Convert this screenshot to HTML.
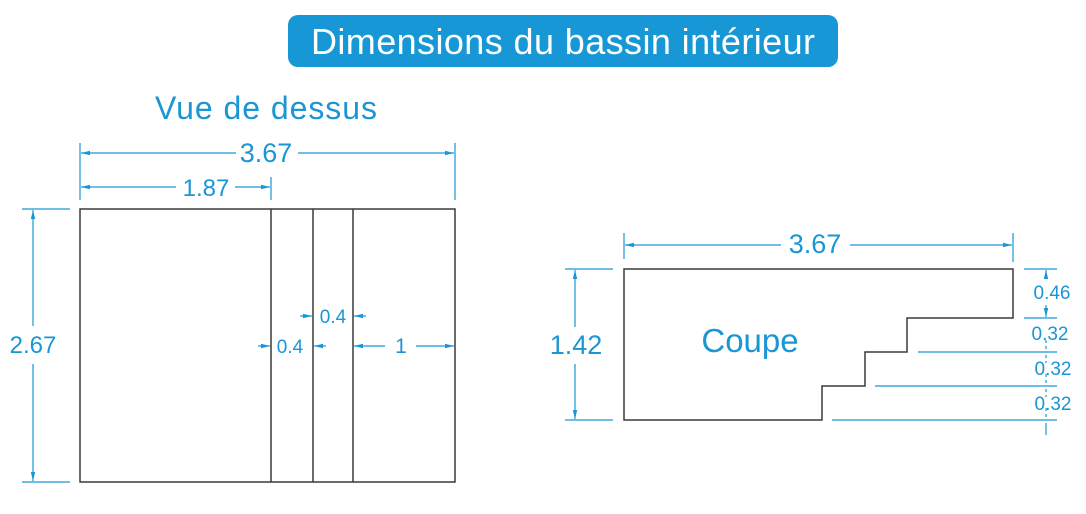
<!DOCTYPE html>
<html><head><meta charset="utf-8"><style>
html,body{margin:0;padding:0;background:#fff;width:1086px;height:514px;overflow:hidden}
svg{display:block}
text{font-family:"Liberation Sans",sans-serif;fill:#1a96d4}
</style></head><body>
<svg width="1086" height="514" viewBox="0 0 1086 514" xmlns="http://www.w3.org/2000/svg">
<defs>
<marker id="a" markerWidth="10" markerHeight="6" refX="9" refY="3" orient="auto" markerUnits="userSpaceOnUse">
<path d="M0,0.8 L9,3 L0,5.2 Z" fill="#1a96d4"/></marker>
</defs>
<rect x="288" y="15" width="550" height="52" rx="10" fill="#1797d5"/>
<text x="563" y="54" font-size="36" text-anchor="middle" textLength="504" style="fill:#fff">Dimensions du bassin intérieur</text>
<text x="266" y="119" font-size="32" text-anchor="middle" textLength="222">Vue de dessus</text>

<g stroke="#3a3a3a" stroke-width="1.5" fill="none">
<rect x="80" y="209" width="375" height="273"/>
<line x1="271" y1="209" x2="271" y2="482"/>
<line x1="313" y1="209" x2="313" y2="482"/>
<line x1="353" y1="209" x2="353" y2="482"/>
<path d="M624,269 H1013 V318 H907 V352 H865 V386 H822 V420 H624 Z"/>
</g>

<g stroke="#1a96d4" stroke-width="1.2" fill="none">
<line x1="80" y1="143" x2="80" y2="200"/>
<line x1="455" y1="143" x2="455" y2="200"/>
<line x1="271" y1="177" x2="271" y2="200"/>
<line x1="236" y1="153" x2="81" y2="153" marker-end="url(#a)"/>
<line x1="298" y1="153" x2="454" y2="153" marker-end="url(#a)"/>
<line x1="176" y1="187" x2="81" y2="187" marker-end="url(#a)"/>
<line x1="235" y1="187" x2="270" y2="187" marker-end="url(#a)"/>
<line x1="22" y1="209" x2="70" y2="209"/>
<line x1="22" y1="482" x2="70" y2="482"/>
<line x1="33" y1="326" x2="33" y2="210" marker-end="url(#a)"/>
<line x1="33" y1="364" x2="33" y2="481" marker-end="url(#a)"/>
<line x1="300" y1="316" x2="312" y2="316" marker-end="url(#a)"/>
<line x1="366" y1="316" x2="354" y2="316" marker-end="url(#a)"/>
<line x1="258" y1="346" x2="270" y2="346" marker-end="url(#a)"/>
<line x1="326" y1="346" x2="314" y2="346" marker-end="url(#a)"/>
<line x1="385" y1="346" x2="354" y2="346" marker-end="url(#a)"/>
<line x1="416" y1="346" x2="454" y2="346" marker-end="url(#a)"/>
<line x1="624" y1="233" x2="624" y2="259"/>
<line x1="1013" y1="233" x2="1013" y2="262"/>
<line x1="781" y1="245" x2="625" y2="245" marker-end="url(#a)"/>
<line x1="850" y1="245" x2="1012" y2="245" marker-end="url(#a)"/>
<line x1="565" y1="269" x2="613" y2="269"/>
<line x1="565" y1="420" x2="613" y2="420"/>
<line x1="575" y1="327" x2="575" y2="270" marker-end="url(#a)"/>
<line x1="575" y1="364" x2="575" y2="419" marker-end="url(#a)"/>
<line x1="1024" y1="269" x2="1057" y2="269"/>
<line x1="1024" y1="318" x2="1057" y2="318"/>
<line x1="918" y1="352" x2="1057" y2="352"/>
<line x1="875" y1="386" x2="1057" y2="386"/>
<line x1="832" y1="420" x2="1057" y2="420"/>
<line x1="1046" y1="278" x2="1046" y2="270" marker-end="url(#a)"/>
<line x1="1046" y1="305" x2="1046" y2="317" marker-end="url(#a)"/>
<line x1="1046" y1="340" x2="1046" y2="351" stroke-dasharray="3,3"/>
<line x1="1046" y1="355" x2="1046" y2="363" stroke-dasharray="3,3"/>
<line x1="1046" y1="374" x2="1046" y2="385" stroke-dasharray="3,3"/>
<line x1="1046" y1="389" x2="1046" y2="397" stroke-dasharray="3,3"/>
<line x1="1046" y1="408" x2="1046" y2="419" stroke-dasharray="3,3"/>
<line x1="1046" y1="423" x2="1046" y2="435"/>
</g>

<text x="266" y="162" font-size="27" text-anchor="middle">3.67</text>
<text x="206" y="196" font-size="24" text-anchor="middle">1.87</text>
<text x="33" y="353" font-size="24" text-anchor="middle">2.67</text>
<text x="333" y="323" font-size="19" text-anchor="middle">0.4</text>
<text x="290" y="353" font-size="19" text-anchor="middle">0.4</text>
<text x="401" y="353" font-size="21" text-anchor="middle">1</text>
<text x="815" y="253" font-size="27" text-anchor="middle">3.67</text>
<text x="576" y="354" font-size="27" text-anchor="middle">1.42</text>
<text x="750" y="352" font-size="33" text-anchor="middle">Coupe</text>
<text x="1052" y="299" font-size="19" text-anchor="middle">0.46</text>
<text x="1050" y="340" font-size="19" text-anchor="middle">0.32</text>
<text x="1053" y="375" font-size="19" text-anchor="middle">0.32</text>
<text x="1053" y="410" font-size="19" text-anchor="middle">0.32</text>
</svg>
</body></html>
